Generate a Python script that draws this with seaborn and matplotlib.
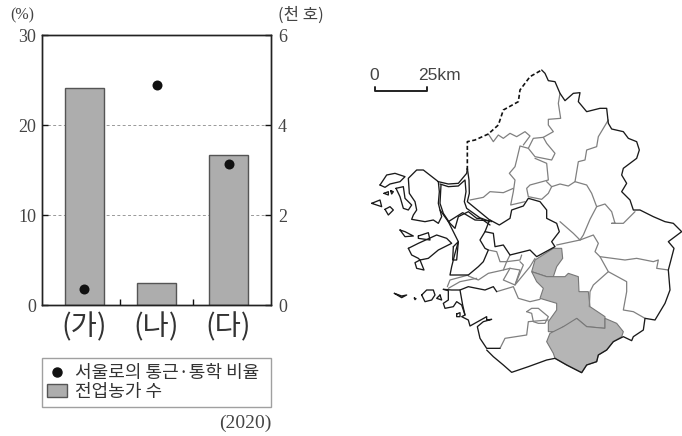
import matplotlib
matplotlib.use('Agg')
import matplotlib.pyplot as plt
import seaborn as sns
from matplotlib.lines import Line2D
from matplotlib.patches import Patch, Polygon

sns.set_style('white')
KR = ['Noto Sans CJK KR', 'DejaVu Sans']
SERIF = ['Liberation Serif', 'DejaVu Serif']
plt.rcParams['font.family'] = KR

W, H = 682, 436
TEXT = '#444444'
GREY = '#adadad'

categories = ['(가)', '(나)', '(다)']
farm_households = [4.83, 0.49, 3.33]   # thousand households, right axis
commute_share = [1.8, 24.5, 15.7]      # %, left axis
left_ticks = [0, 10, 20, 30]
right_ticks = [0, 2, 4, 6]
legend_labels = ['서울로의 통근·통학 비율', '전업농가 수']


def up(pts):
    return [(x, y - 450) for x, y in pts]


def west(pts):
    return [(x + 30, y - 150) for x, y in pts]


def mid(pts):
    return [(x + 240, y - 60) for x, y in pts]


def south(pts):
    return [(x + 90, y + 180) for x, y in pts]


north_dashed = up([(322, 330), (322, 245), (345, 240), (385, 222), (415, 195), (430, 150),
                   (475, 125), (480, 90), (510, 50), (545, 30)])
east_coast = up([(545, 30), (555, 40), (565, 62), (585, 65), (600, 100), (615, 122), (640, 100),
                 (660, 98), (655, 125), (680, 155), (720, 145), (740, 145), (745, 190), (755, 207),
                 (790, 215), (805, 235), (830, 245), (838, 270), (830, 295), (790, 325), (785, 345),
                 (800, 370), (785, 395), (810, 420), (820, 450)]) + [
    (840, 0), (880, 20), (915, 35), (940, 40), (965, 65), (925, 95), (942, 115), (925, 180),
    (930, 240), (915, 280), (885, 330), (855, 325), (850, 360), (820, 380), (815, 392), (790, 380),
    (760, 395), (740, 420), (715, 435), (710, 455), (680, 465), (665, 488), (620, 465), (585, 445),
    (560, 450), (505, 470), (455, 487), (430, 465), (400, 440), (380, 420)]

ganghwa = west([(205, 65), (160, 30), (140, 30), (115, 55), (118, 100), (135, 125), (140, 150),
                (130, 165), (125, 178), (165, 185), (190, 180), (205, 190), (215, 170), (205, 130),
                (208, 95), (205, 65)])
strait_outer = west([(205, 65), (235, 72), (265, 70), (290, 40), (292, 25)])
strait_inner = west([(210, 72), (235, 80), (265, 78), (285, 60), (288, 95), (283, 125), (290, 145),
                     (360, 195)])
han_outer = west([(292, 25), (297, 60), (298, 100), (292, 125), (365, 185)])
gimpo_coast = west([(213, 75), (210, 130), (220, 160), (240, 190), (255, 205), (265, 170), (295, 155),
                    (320, 175), (335, 175), (360, 185)])
incheon_coast = mid([(0, 60), (25, 95), (55, 155), (45, 190), (35, 230), (30, 255), (85, 255),
                     (115, 230), (130, 215), (145, 180), (135, 175), (120, 150), (135, 125),
                     (148, 92), (105, 90), (68, 68), (25, 95)])
seoul = mid([(150, 90), (178, 105), (210, 85), (215, 60), (250, 48), (265, 25), (300, 35), (320, 60),
             (320, 85), (350, 100), (358, 125), (335, 155), (345, 170), (290, 200), (270, 180),
             (210, 195), (190, 165), (165, 170), (160, 130), (135, 125)])
hwaseong_coast = south([(160, 58), (175, 62), (175, 90), (160, 100), (165, 115), (190, 110), (200, 95),
                        (215, 105), (225, 135), (215, 140), (235, 150), (240, 168), (290, 140),
                        (290, 150), (305, 148), (280, 155), (262, 170), (270, 205), (290, 235),
                        (330, 235)])
ansan_coast = south([(160, 58), (185, 60), (210, 60), (235, 50), (285, 60), (310, 50), (320, 65)])
ansan_coast2 = south([(210, 60), (218, 105), (225, 135)])
seokmo = west([(30, 75), (50, 45), (75, 40), (105, 50), (90, 65), (60, 72), (45, 82), (30, 75)])
gyodong = west([(78, 85), (100, 80), (105, 115), (125, 135), (115, 150), (100, 145), (90, 110), (78, 85)])
yeongjong = west([(115, 265), (145, 250), (200, 225), (230, 235), (245, 250), (205, 270), (175, 295),
                  (150, 300), (145, 295), (125, 285), (115, 265)])
islands = [
    west([(5, 130), (30, 120), (35, 140), (20, 135), (5, 130)]),
    west([(45, 148), (60, 140), (70, 150), (55, 165), (45, 148)]),
    west([(42, 100), (55, 95), (55, 105), (42, 100)]),
    west([(62, 92), (70, 95), (65, 102), (62, 92)]),
    west([(90, 210), (105, 215), (130, 228), (105, 230), (90, 210)]),
    west([(145, 228), (175, 218), (180, 240), (145, 235), (145, 228)]),
    west([(150, 300), (135, 308), (140, 325), (162, 330), (150, 300)]),
    west([(250, 260), (265, 245), (260, 300), (248, 300), (250, 260)]),
    south([(95, 75), (110, 60), (130, 60), (135, 75), (125, 90), (105, 95), (95, 75)]),
    south([(13, 70), (35, 78), (50, 75), (35, 83), (13, 70)]),
    south([(150, 75), (155, 90), (140, 85), (150, 75)]),
    south([(73, 84), (78, 86), (75, 89), (73, 84)]),
    south([(200, 132), (210, 128), (210, 140), (200, 140), (200, 132)]),
]

gray_lines = [
    up([(385, 222), (400, 245), (415, 225), (430, 235), (450, 220), (470, 230), (495, 215),
        (510, 228), (490, 255)]),
    up([(600, 100), (595, 130), (602, 175), (565, 178), (565, 195), (580, 215), (550, 232),
        (520, 235), (505, 265), (480, 258), (470, 300), (465, 320), (448, 340), (465, 360),
        (460, 395), (452, 435), (495, 425)]),
    up([(505, 265), (525, 290), (575, 300), (585, 280), (560, 250), (550, 232)]),
    up([(525, 295), (560, 310), (565, 360), (510, 375), (500, 385), (505, 410), (545, 418),
        (565, 400), (575, 380), (560, 365)]),
    up([(745, 180), (715, 230), (710, 260), (680, 270), (675, 300), (655, 305), (645, 365),
        (625, 378), (600, 372), (575, 380)]),
    up([(645, 365), (680, 375), (695, 400), (710, 440), (690, 478)]) + [(670, 75), (660, 90)],
    up([(710, 440), (735, 432), (755, 455), (765, 490)]) + [(755, 40), (790, 40), (825, 5)],
    up([(330, 420), (370, 412), (390, 395), (430, 398), (460, 385)]),
    [(600, 35), (640, 70), (660, 90), (590, 105)],
    [(660, 90), (700, 75), (715, 100), (705, 125), (720, 140), (745, 185), (800, 215), (800, 245),
     (790, 300), (820, 305), (855, 325)],
    [(720, 140), (795, 150), (830, 145), (880, 155), (895, 150), (890, 175), (925, 180)],
    [(745, 185), (700, 225), (690, 245), (688, 290)],
    mid([(145, 180), (170, 185), (180, 215), (200, 215), (210, 195)]),
    mid([(200, 215), (240, 210), (245, 195)]),
    mid([(200, 215), (190, 240), (145, 250), (115, 270), (85, 258)]),
    mid([(210, 235), (190, 270), (225, 285), (240, 240), (210, 235)]),
    mid([(240, 215), (250, 225), (225, 285), (270, 230), (285, 205)]),
    mid([(190, 240), (210, 235)]),
    mid([(85, 255), (30, 270), (22, 290)]),
    south([(175, 55), (210, 35), (260, 25)]),
    south([(320, 65), (370, 50), (385, 85), (420, 95), (450, 88)]),
    south([(330, 235), (345, 205), (410, 195), (415, 155), (475, 150)]),
    south([(410, 125), (425, 115), (445, 115), (475, 140), (465, 160), (445, 160), (430, 155),
           (425, 130), (410, 125)]),
]

shaded = [
    [(525, 150), (580, 115), (605, 115), (608, 145), (590, 170), (580, 200), (560, 200), (515, 185)],
    [(515, 185), (560, 200), (615, 200), (625, 190), (655, 200), (657, 245), (685, 245), (690, 290),
     (735, 320), (735, 355), (680, 350), (650, 325), (640, 345), (610, 350), (590, 365), (565, 365),
     (565, 335), (590, 300), (590, 280), (540, 265), (550, 235), (530, 215)],
    [(735, 325), (770, 340), (790, 365), (785, 380), (760, 395), (740, 420), (715, 435), (710, 455),
     (680, 465), (665, 488), (620, 465), (585, 445), (580, 430), (560, 395), (570, 370), (610, 350),
     (650, 325), (680, 350), (735, 355)],
]

fig = plt.figure(figsize=(W / 100, H / 100), dpi=100)
ax = fig.add_axes([41.5 / W, 1 - 305 / H, 229.5 / W, 270 / H])
ax_r = ax.twinx()

# bars and grid sit on the right axis, dots stay on top
sns.barplot(x=categories, y=farm_households, ax=ax_r, color=GREY, saturation=1, width=0.535,
            edgecolor='#555555', linewidth=1)
sns.stripplot(x=categories, y=commute_share, ax=ax, color='#111111', size=7.2, jitter=False)
ax.set_zorder(ax_r.get_zorder() + 1)
ax.patch.set_visible(False)

ax.set_xlim(-0.597, 2.59)
ax.set_ylim(0, 30)
ax_r.set_ylim(0, 6)
ax.set_yticks(left_ticks)
ax_r.set_yticks(right_ticks)
ax_r.yaxis.grid(True, color='#999999', linestyle=(0, (3, 2.5)), linewidth=0.7)
ax_r.xaxis.grid(False)
ax_r.set_axisbelow(True)
ax.set_xticks([0, 1, 2])
ax.set_xticklabels(categories, fontsize=20.5, color='#333333', family=KR)
ax.set_xticks([0.5, 1.5], minor=True)
ax.tick_params(axis='x', which='major', length=0, pad=5)
ax.tick_params(axis='x', which='minor', direction='in', length=4.5, width=1, color='#111111', bottom=True)
ax.tick_params(axis='y', direction='in', length=4.5, width=1, color='#111111', left=True, pad=4)
ax_r.tick_params(axis='y', direction='in', length=4.5, width=1, color='#111111', right=True, pad=5)
for a in (ax, ax_r):
    for lab in a.get_yticklabels():
        lab.set_family(SERIF)
        lab.set_fontsize(13)
        lab.set_color(TEXT)
    a.set_xlabel('')
    a.set_ylabel('')
    for s in a.spines.values():
        s.set_visible(True)
        s.set_color('#222222')
        s.set_linewidth(1)
# keep the y labels on their own sides
ax.yaxis.tick_left()
ax_r.yaxis.tick_right()

fig.text(10 / W, 1 - 15 / H, '(%)', fontsize=11.5, color=TEXT, family=SERIF, va='center')
fig.text(278 / W, 1 - 15 / H, '(천 호)', fontsize=12, color=TEXT, va='center')
fig.text(271 / W, 1 - 423 / H, '(2020)', fontsize=14, color=TEXT, family=SERIF, ha='right', va='center')

handles = [Line2D([], [], marker='o', linestyle='', color='#111111', markersize=6.5),
           Patch(facecolor=GREY, edgecolor='#555555')]
leg = fig.legend(handles, legend_labels, loc='upper left', mode='expand',
                 bbox_to_anchor=(41.5 / W, 1 - 407 / H, 229.5 / W, 49 / H), borderaxespad=0,
                 fontsize=13, fancybox=False, frameon=True, edgecolor='#888888',
                 labelcolor='#333333', borderpad=0.33, labelspacing=0.05, handlelength=1.1,
                 handletextpad=0.4)
leg.get_frame().set_linewidth(1)

# map panel: 322x320 px, crop coordinates
m = fig.add_axes([360 / W, 1 - 380 / H, 322 / W, 320 / H])
m.set_xlim(0, 966)
m.set_ylim(510, -450)
m.axis('off')
for poly in shaded:
    m.add_patch(Polygon(poly, closed=True, facecolor='#b5b5b5', edgecolor='#777777', linewidth=0.8, zorder=1))
for line in gray_lines:
    m.plot(*zip(*line), color='#808080', linewidth=0.9, zorder=2)
for line in [east_coast, ganghwa, strait_outer, strait_inner, han_outer, gimpo_coast, incheon_coast,
             seoul, hwaseong_coast, ansan_coast, ansan_coast2, seokmo, gyodong, yeongjong] + islands:
    m.plot(*zip(*line), color='#1a1a1a', linewidth=0.95, zorder=3, solid_joinstyle='round')
m.plot(*zip(*north_dashed), color='#111111', linewidth=1.2, linestyle=(0, (2.5, 1.5)), zorder=3)

# scale bar
m.plot([45, 45, 200, 200], [-370, -357, -357, -370], color='#222222', linewidth=1.4)
m.text(43, -403, '0', fontsize=12.5, family='Liberation Sans', color=TEXT, ha='center', va='center')
m.text(173, -403, '25km', fontsize=12.5, family='Liberation Sans', color=TEXT, ha='left', va='center')

fig.savefig('out.png', dpi=100)
